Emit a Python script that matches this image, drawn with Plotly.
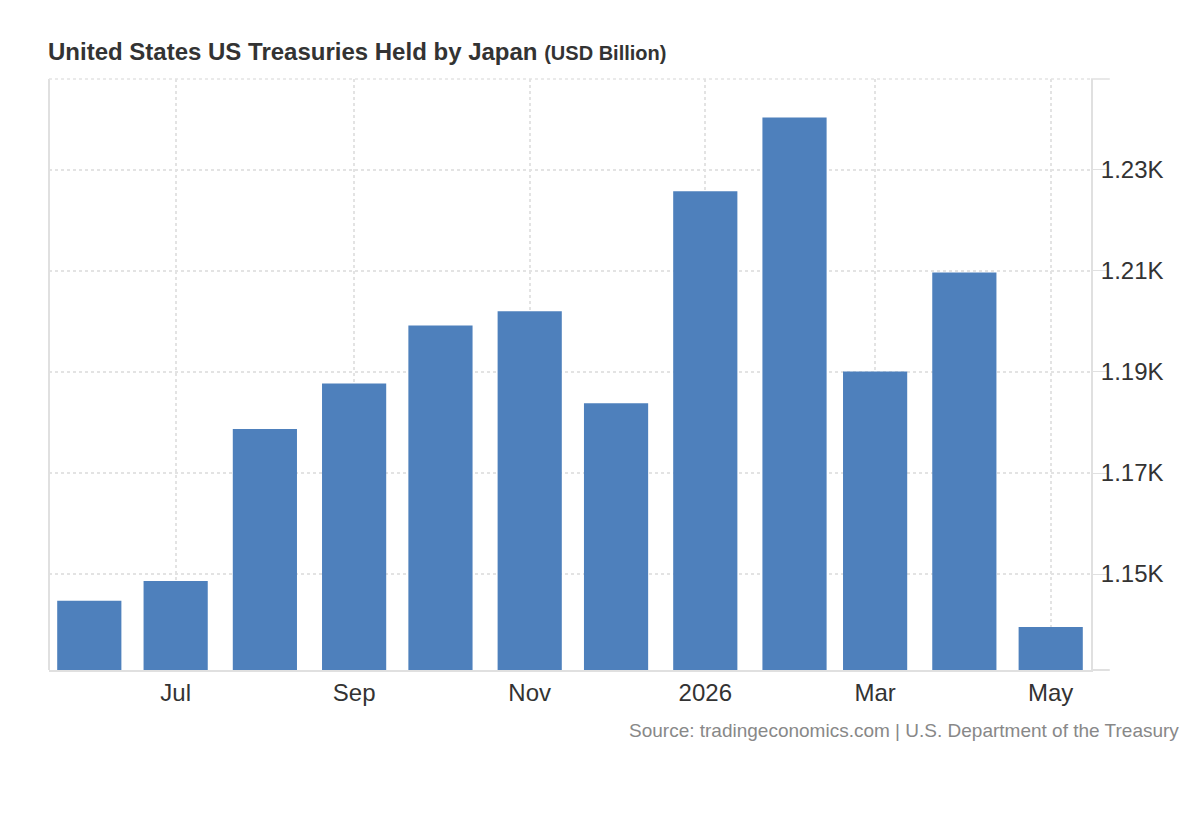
import plotly.graph_objects as go

# monthly holdings, USD billion
months = ["2025-06-01", "2025-07-01", "2025-08-01", "2025-09-01", "2025-10-01", "2025-11-01",
          "2025-12-01", "2026-01-01", "2026-02-01", "2026-03-01", "2026-04-01", "2026-05-01"]
holdings = [1144.7, 1148.6, 1178.7, 1187.7, 1199.2, 1202.0,
            1183.8, 1225.8, 1240.4, 1190.1, 1209.7, 1139.5]

x_tickvals = ["2025-07-01", "2025-09-01", "2025-11-01", "2026-01-01", "2026-03-01", "2026-05-01"]
x_ticktext = ["Jul", "Sep", "Nov", "2026", "Mar", "May"]
y_tickvals = [1150, 1170, 1190, 1210, 1230]
y_ticktext = ["1.15K", "1.17K", "1.19K", "1.21K", "1.23K"]

grid = "#e3e3e3"
axis_line = "#e0e0e0"
font = "Liberation Sans, Arial, sans-serif"

fig = go.Figure()
fig.add_trace(go.Bar(
    x=months,
    y=holdings,
    width=22.3 * 86400000,
    marker=dict(color="#4e80bc", line=dict(width=0)),
    hoverinfo="x+y",
))

fig.update_layout(
    width=1200,
    height=820,
    margin=dict(l=41, r=117, t=71, b=158),
    paper_bgcolor="white",
    plot_bgcolor="white",
    showlegend=False,
    font=dict(family=font, color="#333333"),
    xaxis=dict(
        type="date",
        range=["2025-05-18", "2026-05-15"],
        tickvals=x_tickvals,
        ticktext=x_ticktext,
        tickfont=dict(size=24, color="#333333"),
        showgrid=True,
        gridcolor=grid,
        griddash="dot",
        gridwidth=1.5,
        showline=True,
        linecolor=axis_line,
        linewidth=2,
        ticks="",
        zeroline=False,
    ),
    yaxis=dict(
        side="right",
        range=[1131, 1248],
        tickvals=y_tickvals,
        ticktext=y_ticktext,
        tickfont=dict(size=24, color="#333333"),
        showgrid=True,
        gridcolor=grid,
        griddash="dot",
        gridwidth=1.5,
        showline=True,
        linecolor=axis_line,
        linewidth=2,
        ticks="outside",
        ticklen=14,
        tickcolor=axis_line,
        ticklabelstandoff=-11,
        zeroline=False,
    ),
    shapes=[
        # left border
        dict(type="line", xref="paper", yref="paper", x0=0, x1=0, y0=0, y1=1,
             line=dict(color=axis_line, width=2)),
        # top dotted border
        dict(type="line", xref="paper", yref="paper", x0=0, x1=1, y0=1, y1=1,
             line=dict(color=grid, width=1.5, dash="dot")),
        dict(type="line", xref="paper", yref="paper", x0=1, x1=1.018, y0=1, y1=1,
             line=dict(color=axis_line, width=1.5)),
        # x axis line running past the right axis
        dict(type="line", xref="paper", yref="paper", x0=1, x1=1.018, y0=0, y1=0,
             line=dict(color=axis_line, width=2)),
    ],
    annotations=[
        dict(
            xref="paper", yref="paper", x=-0.003, y=1.0457,
            xanchor="left", yanchor="middle", showarrow=False,
            text="<b>United States US Treasuries Held by Japan</b> "
                 "<b><span style='font-size:20px'>(USD Billion)</span></b>",
            font=dict(size=24, color="#333333", family=font),
        ),
        dict(
            xref="paper", yref="paper", x=1.0865, y=-0.103,
            xanchor="right", yanchor="middle", showarrow=False,
            text="Source: tradingeconomics.com | U.S. Department of the Treasury",
            font=dict(size=19, color="#888888", family=font),
        ),
    ],
)

fig.write_html("out.html")
